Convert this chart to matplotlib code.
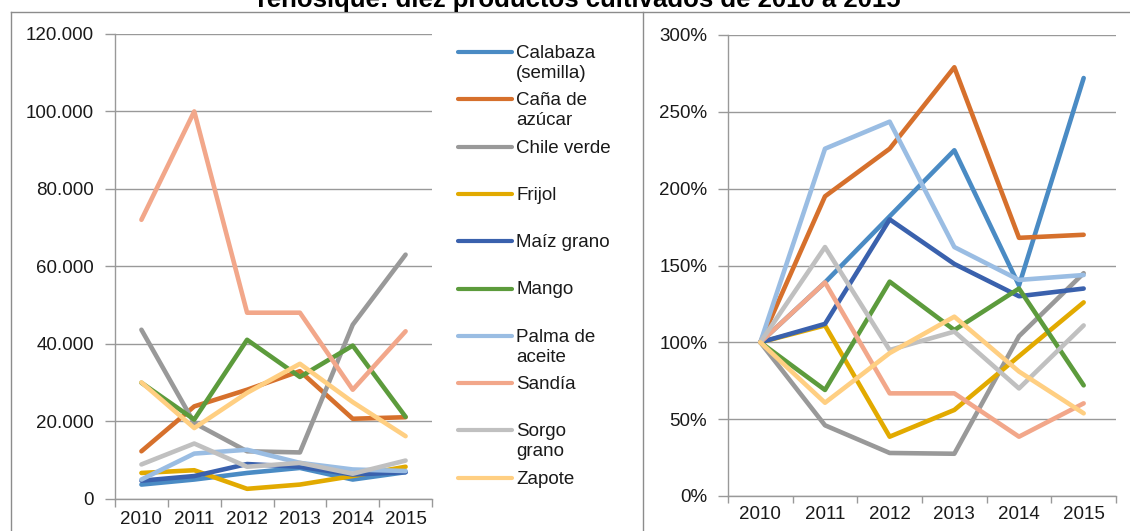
import numpy as np
import matplotlib
matplotlib.use("Agg")
import matplotlib.pyplot as plt
from matplotlib.lines import Line2D
from matplotlib.ticker import FuncFormatter, FixedLocator, MultipleLocator

plt.rcParams['font.family'] = ['Liberation Sans', 'DejaVu Sans']

# Datos
anios = ['2010', '2011', '2012', '2013', '2014', '2015']
productos = ['Calabaza\n(semilla)', 'Caña de\nazúcar', 'Chile verde', 'Frijol', 'Maíz grano',
             'Mango', 'Palma de\naceite', 'Sandía', 'Sorgo\ngrano', 'Zapote']
colores = ['#4a8bc4', '#d6702c', '#999999', '#e2aa00', '#3a61ad',
           '#5c9b3c', '#9abde3', '#f2a78a', '#c0c0c0', '#ffcf82']

# toneladas (eje izquierdo)
calabaza = [3600, 4900, 6600, 7900, 4900, 6800]
cana = [12200, 23800, 28100, 32900, 20600, 21000]
chile = [43600, 19500, 12200, 11900, 44900, 63000]
frijol = [6600, 7300, 2500, 3600, 5800, 8200]
maiz = [4600, 5800, 8900, 8200, 6200, 6800]
mango = [29900, 20400, 41000, 31400, 39500, 21100]
palma = [4900, 11600, 12600, 9200, 7500, 7100]
sandia = [72000, 100000, 48000, 48000, 28100, 43200]
sorgo = [8800, 14200, 8200, 9200, 6400, 9800]
zapote = [30000, 18200, 27300, 34800, 24900, 16100]

# porcentaje respecto a 2010 (eje derecho)
calabaza_pct = [100, 139, 182, 225, 137, 272]
cana_pct = [100, 195, 226, 279, 168, 170]
chile_pct = [100, 46, 28, 27.5, 104, 145]
frijol_pct = [100, 111, 38.6, 56, 91, 126]
maiz_pct = [100, 112, 180, 151, 130, 135]
mango_pct = [100, 69, 139.5, 108, 135, 72]
palma_pct = [100, 226, 243.6, 162, 140.6, 143.8]
sandia_pct = [100, 139, 66.8, 66.8, 38.6, 60.3]
sorgo_pct = [100, 162, 95, 107, 70, 111]
zapote_pct = [100, 60.7, 93, 116.7, 81, 53.8]

valores = [calabaza, cana, chile, frijol, maiz, mango, palma, sandia, sorgo, zapote]
porcentajes = [calabaza_pct, cana_pct, chile_pct, frijol_pct, maiz_pct,
               mango_pct, palma_pct, sandia_pct, sorgo_pct, zapote_pct]

W, H = 1130, 531
fig = plt.figure(figsize=(W / 100, H / 100), dpi=100)

ax1 = fig.add_axes([115 / W, 1 - 498.5 / H, 317 / W, 464.5 / H])
ax2 = fig.add_axes([728 / W, 1 - 496 / H, 388 / W, 461 / H])

x = np.arange(len(anios))
lw = 3.3
for v, c in zip(valores, colores):
    ax1.plot(x, v, color=c, lw=lw, solid_capstyle='round', solid_joinstyle='round')
for p, c in zip(porcentajes, colores):
    ax2.plot(x, p, color=c, lw=lw, solid_capstyle='round', solid_joinstyle='round')

gris = '#999999'
fs = 13.5
for ax in (ax1, ax2):
    ax.set_xlim(-0.5, len(anios) - 0.5)
    ax.xaxis.set_major_locator(FixedLocator(np.arange(len(anios) + 1) - 0.5))
    ax.xaxis.set_minor_locator(FixedLocator(x))
    ax.set_xticklabels([], minor=False)
    ax.set_xticks(x, anios, minor=True)
    ax.tick_params(axis='x', which='major', length=6, color=gris, width=1)
    ax.tick_params(axis='x', which='minor', length=0, pad=9, labelsize=fs, labelcolor='#1a1a1a')
    ax.tick_params(axis='y', length=7, color=gris, width=1, pad=8, labelsize=fs, labelcolor='#1a1a1a')
    ax.grid(axis='y', color=gris, lw=1)
    ax.set_axisbelow(True)
    for s in ('top', 'right'):
        ax.spines[s].set_visible(False)
    for s in ('left', 'bottom'):
        ax.spines[s].set_color(gris)
        ax.spines[s].set_linewidth(1)

ax1.set_ylim(0, 120000)
ax1.yaxis.set_major_locator(MultipleLocator(20000))
ax1.yaxis.set_major_formatter(FuncFormatter(lambda v, pos: f"{v:,.0f}".replace(',', '.')))

ax2.set_ylim(0, 300)
ax2.yaxis.set_major_locator(MultipleLocator(50))
ax2.yaxis.set_major_formatter(FuncFormatter(lambda v, pos: f"{v:.0f}%"))
ax2.tick_params(axis='x', which='major', length=5)
ax2.tick_params(axis='x', which='minor', pad=7.5)

# leyenda manual (estilo Excel: primera linea alineada con la muestra)
for i, (nombre, c) in enumerate(zip(productos, colores)):
    yc = 52 + 47.3 * i
    fig.add_artist(Line2D([458 / W, 512 / W], [1 - yc / H, 1 - yc / H], color=c, lw=3,
                          solid_capstyle='round', transform=fig.transFigure))
    for j, parte in enumerate(nombre.split('\n')):
        fig.text(516 / W, 1 - (yc + 6 + 20 * j) / H, parte, fontsize=fs,
                 color='#1a1a1a', va='baseline', ha='left')

# marco
marco = dict(color='#8c8c8c', lw=1, transform=fig.transFigure)
fig.add_artist(Line2D([11 / W, 1], [1 - 11.7 / H, 1 - 11.7 / H], **marco))
fig.add_artist(Line2D([11 / W, 11 / W], [0, 1 - 11.7 / H], **marco))
fig.add_artist(Line2D([643 / W, 643 / W], [0, 1 - 11.7 / H], **marco))

fig.text(577 / W, 1 - 7 / H, 'Tenosique: diez productos cultivados de 2010 a 2015',
         fontsize=18.5, fontweight='bold', ha='center', va='baseline')

fig.savefig('out.png', dpi=100)
